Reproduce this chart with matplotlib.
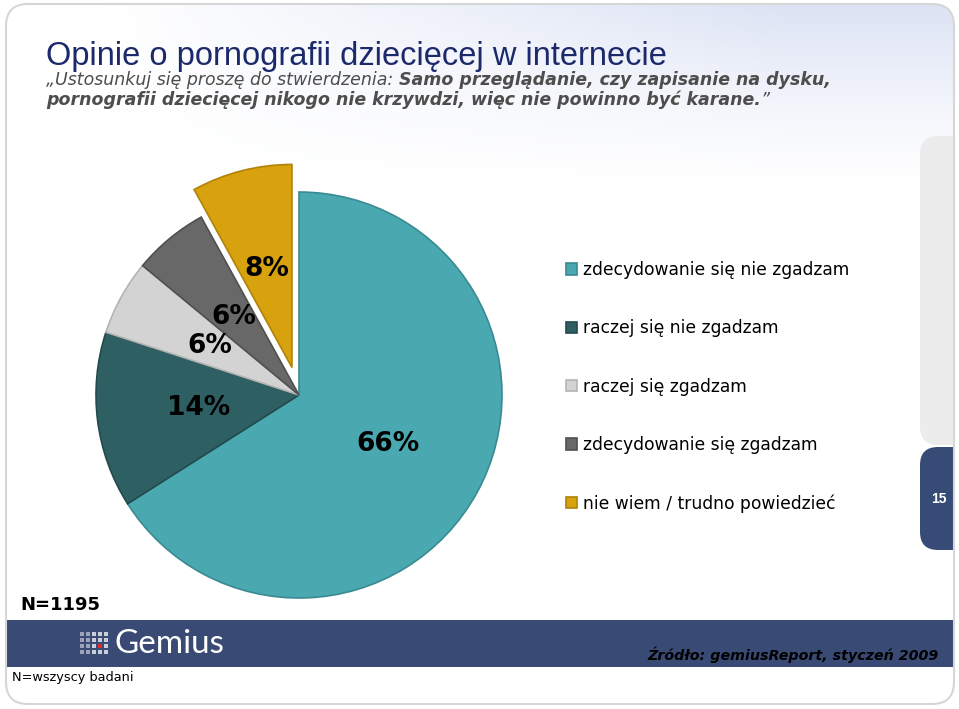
import matplotlib
matplotlib.use('Agg')
import matplotlib.pyplot as plt
import numpy as np
from matplotlib.patches import FancyBboxPatch, Rectangle

# data
categories = ['zdecydowanie się nie zgadzam', 'raczej się nie zgadzam', 'raczej się zgadzam',
              'zdecydowanie się zgadzam', 'nie wiem / trudno powiedzieć']
shares = [66, 14, 6, 6, 8]
colors = ['#4aa8b0', '#2e5f62', '#d3d3d3', '#686868', '#d8a20f']
edges = ['#3a8a92', '#234a4c', '#b4b4b4', '#505050', '#b08208']
explode = [0, 0, 0, 0, 0.14]

title = 'Opinie o pornografii dziecięcej w internecie'
q_intro = '\u201eUstosunkuj się proszę do stwierdzenia: '
q_line1 = 'Samo przeglądanie, czy zapisanie na dysku,'
q_line2 = 'pornografii dziecięcej nikogo nie krzywdzi, więc nie powinno być karane.'
q_close = '\u201d'
sample = 'N=1195'
base_note = 'N=wszyscy badani'
source = 'Źródło: gemiusReport, styczeń 2009'
page_no = '15'

W, H = 959, 709
fig = plt.figure(figsize=(W / 100, H / 100), dpi=100)
bg = fig.add_axes([0, 0, 1, 1])
bg.set_xlim(0, W)
bg.set_ylim(H, 0)
bg.axis('off')

# page with rounded border
page = FancyBboxPatch((6, 4), 948, 700, boxstyle='round,pad=0,rounding_size=22',
                      fc='white', ec='none', zorder=0)
bg.add_patch(page)
border = FancyBboxPatch((6, 4), 948, 700, boxstyle='round,pad=0,rounding_size=22',
                        fc='none', ec='#d6d6d6', lw=1.5, zorder=5)
bg.add_patch(border)

# soft blue gradient in the header
gx = np.linspace(0, 1, 300)
gy = np.linspace(0, 1, 60)
X, Y = np.meshgrid(gx, gy)
k = np.clip(X * 1.4 - 0.15, 0, 1) * (1 - Y) ** 1.3 * 0.85
lav = np.array([0.84, 0.87, 0.95])
img = np.ones((60, 300, 3)) * (1 - k[..., None]) + lav * k[..., None]
im = bg.imshow(img, extent=(6, 954, 190, 4), aspect='auto', zorder=0.5)
im.set_clip_path(page)

# side tabs
tab1 = FancyBboxPatch((920, 136), 60, 309, boxstyle='round,pad=0,rounding_size=18',
                      fc='#ececec', ec='none', zorder=1)
tab2 = FancyBboxPatch((920, 447), 60, 103, boxstyle='round,pad=0,rounding_size=18',
                      fc='#374b77', ec='none', zorder=1)
for p in (tab1, tab2):
    bg.add_patch(p)
    p.set_clip_path(page)
bg.text(939, 499, page_no, color='white', fontsize=10, fontweight='bold',
        family=['Liberation Sans', 'DejaVu Sans'], ha='center', va='center', zorder=2)

# bottom banner
banner = Rectangle((6, 620), 948, 47, fc='#394a74', ec='none', zorder=1)
bg.add_patch(banner)
banner.set_clip_path(page)
for i in range(5):
    for j in range(4):
        c = '#e3262a' if (i, j) == (3, 2) else ('#9aa3b8' if i < 2 else '#c9ced9')
        bg.add_patch(Rectangle((80 + i * 6, 632 + j * 6), 4.2, 4.2, fc=c, ec='none', zorder=2))

renderer = fig.canvas.get_renderer()


def width(t):
    return t.get_window_extent(renderer).width


logo = bg.text(115, 644, 'Gemius', color='white', fontsize=21, family=['Lato', 'DejaVu Sans'],
               ha='left', va='center', zorder=2)
logo.set_fontsize(21 * 110 / width(logo))

# title and question
t_title = bg.text(46, 65, title, color='#1c2a6b', fontsize=24,
                  family=['Liberation Sans', 'DejaVu Sans'], va='baseline')
t_title.set_fontsize(24 * 620 / width(t_title))

sub_kw = dict(color='#4d4d4d', family='DejaVu Sans', style='italic', va='baseline')
a = bg.text(46, 85, q_intro, fontsize=11, **sub_kw)
b = bg.text(46, 85, q_line1, fontsize=11, fontweight='bold', **sub_kw)
scale = 780 / (width(a) + width(b))
for t in (a, b):
    t.set_fontsize(11 * scale)
b.set_x(46 + width(a))
c = bg.text(46, 105, q_line2, fontsize=11 * scale, fontweight='bold', **sub_kw)
d = bg.text(46 + width(c), 105, q_close, fontsize=11 * scale, **sub_kw)

# footer texts
bg.text(20, 605, sample, fontsize=13, fontweight='bold', ha='left', va='center', zorder=2)
bg.text(12, 677, base_note, fontsize=9.3, ha='left', va='center', zorder=2)
t_src = bg.text(939, 660, source, fontsize=12, fontweight='bold', style='italic',
                ha='right', va='baseline', zorder=2)
t_src.set_fontsize(12 * 292 / width(t_src))

# pie: centre (299, 395) px, radius 203 px
R, cx, cy = 203, 299, 395
span = 2.5 * R
pie_ax = fig.add_axes([(cx - span / 2) / W, (H - cy - span / 2) / H, span / W, span / H])
wedges, texts, autotexts = pie_ax.pie(
    shares, colors=colors, explode=explode, startangle=90, counterclock=False,
    autopct='%.0f%%', pctdistance=0.5,
    wedgeprops=dict(linewidth=1.2),
    textprops=dict(fontsize=19, fontweight='bold', color='black'))
for w, e in zip(wedges, edges):
    w.set_edgecolor(e)
pie_ax.set_xlim(-1.25, 1.25)
pie_ax.set_ylim(-1.25, 1.25)
pie_ax.axis('off')

fig.legend(wedges, categories, loc='upper left', bbox_to_anchor=(566 / W, 1 - 261 / H),
           frameon=False, fontsize=12.3, labelspacing=2.36, handlelength=0.65,
           handleheight=0.65, handletextpad=0.35, borderpad=0, borderaxespad=0)

fig.savefig('out.png', dpi=100)
